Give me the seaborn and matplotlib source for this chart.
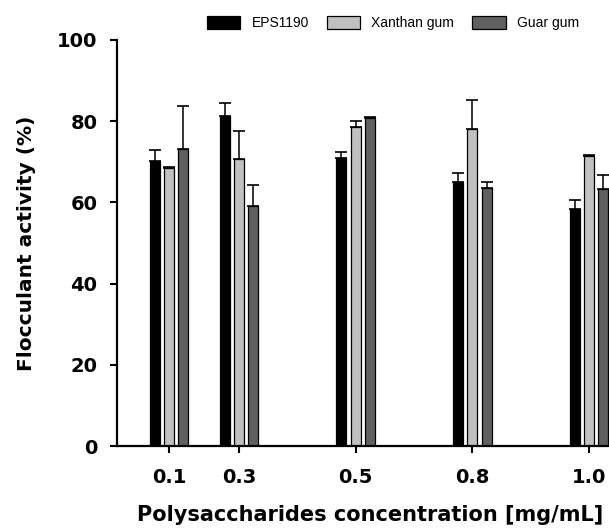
import numpy as np
import pandas as pd
import matplotlib
matplotlib.use("Agg")
import matplotlib.pyplot as plt
import seaborn as sns
from matplotlib.patches import Patch

# Flocculant activity (%) for each polysaccharide at each concentration
concentrations = ["0.1", "0.3", "0.5", "0.8", "1.0"]
eps1190 = [70.3, 81.3, 70.9, 65.0, 58.4]
eps1190_err = [2.5, 3.3, 1.5, 2.2, 2.2]
xanthan = [68.4, 70.6, 78.6, 78.2, 71.4]
xanthan_err = [0.3, 6.9, 1.5, 7.0, 0.3]
guar = [73.1, 59.1, 80.8, 63.5, 63.2]
guar_err = [10.7, 5.1, 0.3, 1.5, 3.6]
series = ["EPS1190", "Xanthan gum", "Guar gum"]

# x slot for each concentration group along the axis
group_pos = [0.0, 0.6, 1.6, 2.6, 3.6]

values = {"EPS1190": eps1190, "Xanthan gum": xanthan, "Guar gum": guar}
errors = {"EPS1190": eps1190_err, "Xanthan gum": xanthan_err, "Guar gum": guar_err}
rows = []
for s in series:
    for p, v, e in zip(group_pos, values[s], errors[s]):
        rows.append({"pos": p, "activity": v, "err": e, "polymer": s})
df = pd.DataFrame(rows)

colors = {"EPS1190": "#000000", "Xanthan gum": "#c0c0c0", "Guar gum": "#606060"}

sns.set_style("ticks", {"axes.edgecolor": "black", "text.color": "black",
                        "axes.labelcolor": "black", "xtick.color": "black",
                        "ytick.color": "black"})
plt.rcParams["font.family"] = ["DejaVu Sans"]

fig = plt.figure(figsize=(6.09, 5.28), dpi=100)
ax = fig.add_axes([117 / 609, 82 / 528, 492 / 609, 406 / 528])

sns.barplot(data=df, x="pos", y="activity", hue="polymer", hue_order=series,
            palette=colors, native_scale=True, width=0.61, gap=0.30,
            errorbar=None, edgecolor="black", linewidth=0.9, ax=ax,
            legend=False)

# upper-only error bars placed on the drawn bars
for s, container in zip(series, ax.containers):
    xs = [b.get_x() + b.get_width() / 2 for b in container]
    hs = [b.get_height() for b in container]
    errs = errors[s]
    ax.errorbar(xs, hs, yerr=[np.zeros(len(errs)), errs], fmt="none",
                ecolor="black", elinewidth=1.1, capsize=4.5, capthick=1.2,
                zorder=1)

ax.set_xlim(-0.444, 3.77)
ax.set_ylim(0, 100)
ax.set_yticks([0, 20, 40, 60, 80, 100])
ax.set_xticks(group_pos)
ax.set_xticklabels(concentrations)
for lab in ax.get_xticklabels() + ax.get_yticklabels():
    lab.set_fontweight("bold")
ax.tick_params(axis="y", labelsize=14, width=1.5, length=5, pad=9)
ax.tick_params(axis="x", labelsize=14, width=1.5, length=5, pad=11)
ax.set_xlabel("Polysaccharides concentration [mg/mL]", fontsize=15,
              fontweight="bold", labelpad=8)
ax.xaxis.set_label_coords(0.514, -0.145)
ax.set_ylabel("Flocculant activity (%)", fontsize=14.5, fontweight="bold",
              labelpad=15)
sns.despine(ax=ax)
for sp in ("left", "bottom"):
    ax.spines[sp].set_linewidth(1.6)

handles = [Patch(facecolor=colors[s], edgecolor="black", linewidth=0.9, label=s)
           for s in series]
fig.legend(handles=handles, loc="center", bbox_to_anchor=(393 / 609, 1 - 23 / 528),
           ncol=3, frameon=False, handlelength=2.4,
           handleheight=1.1, columnspacing=1.3, handletextpad=0.8,
           prop={"family": "Liberation Sans", "size": 10})

fig.savefig("out.png", dpi=100)
